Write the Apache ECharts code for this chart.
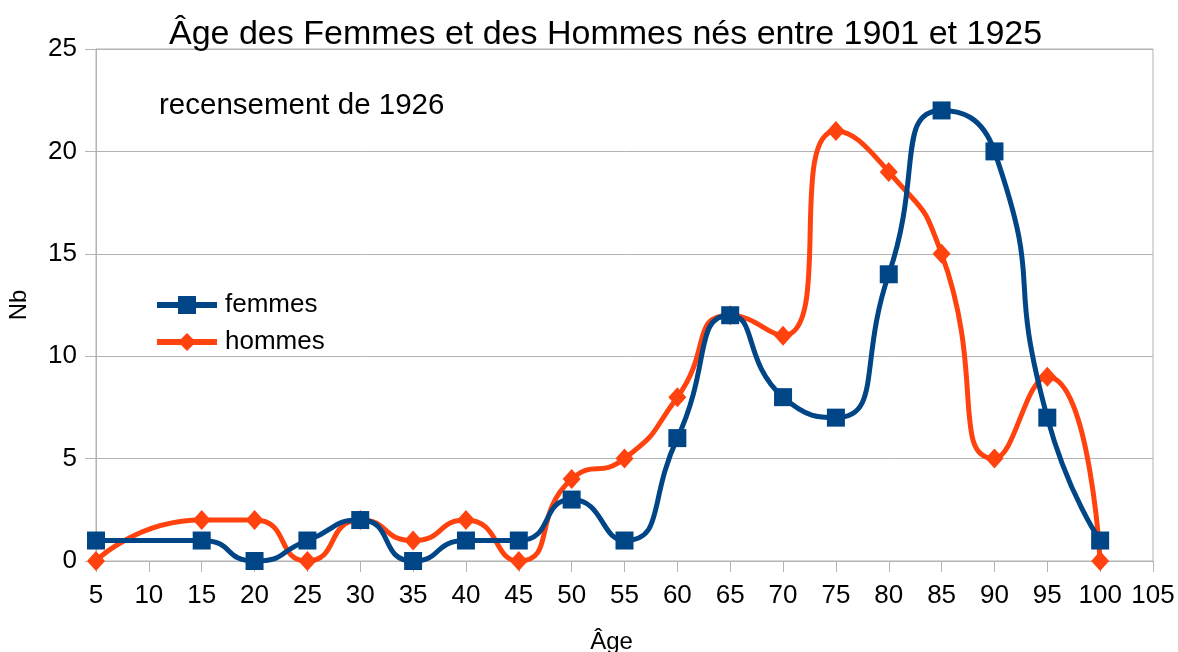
<!DOCTYPE html>
<html>
<head>
<meta charset="utf-8">
<script src="https://cdn.jsdelivr.net/npm/echarts@6/dist/echarts.min.js"></script>
<style>html,body{margin:0;padding:0;background:#fff}#c{width:1178px;height:652px}</style>
</head>
<body>
<div id="c"></div>
<script>
var ages = [5, 15, 20, 25, 30, 35, 40, 45, 50, 55, 60, 65, 70, 75, 80, 85, 90, 95, 100];
var femmes = [1, 1, 0, 1, 2, 0, 1, 1, 3, 1, 6, 12, 8, 7, 14, 22, 20, 7, 1];
var hommes = [0, 2, 2, 0, 2, 1, 2, 0, 4, 5, 8, 12, 11, 21, 19, 15, 5, 9, 0];
var titleText = 'Âge des Femmes et des Hommes nés entre 1901 et 1925';
var subtitleText = 'recensement de 1926';

function pairs(xs, ys) { return xs.map(function (x, i) { return [x, ys[i]]; }); }

var FONT = '"Liberation Sans", Arial, sans-serif';
var GRID = '#b3b3b3';
var chart = echarts.init(document.getElementById('c'), null, { renderer: 'canvas' });
chart.setOption({
  backgroundColor: '#ffffff',
  animation: false,
  title: {
    text: titleText,
    left: 169, top: 18, padding: 0,
    textStyle: { fontFamily: FONT, fontSize: 34, fontWeight: 'normal', color: '#000' }
  },
  graphic: [{
    type: 'text', left: 159, top: 91,
    style: { text: subtitleText, font: '29.5px ' + FONT, fill: '#000' }
  }],
  legend: {
    orient: 'vertical', left: 154, top: 292, itemWidth: 60, itemHeight: 22.5, itemGap: 11,
    padding: 0,
    lineStyle: { width: 6 },
    textStyle: { fontFamily: FONT, fontSize: 26, color: '#000', padding: [0, 0, 0, 3] },
    data: ['femmes', 'hommes']
  },
  grid: {
    left: 96, right: 25, top: 49, bottom: 91,
    outerBoundsMode: 'none', containLabel: false,
    show: true, borderColor: GRID, borderWidth: 1
  },
  xAxis: {
    type: 'value', min: 5, max: 105, interval: 5,
    name: 'Âge', nameLocation: 'middle', nameGap: 69,
    nameTextStyle: { fontFamily: FONT, fontSize: 24, color: '#000', padding: [0, 26, 0, 0] },
    axisLine: { show: true, lineStyle: { color: GRID } },
    axisTick: { show: true, length: 11, lineStyle: { color: GRID } },
    axisLabel: { fontFamily: FONT, fontSize: 26, color: '#000', margin: 22 },
    splitLine: { show: false }
  },
  yAxis: {
    type: 'value', min: 0, max: 25, interval: 5,
    name: 'Nb', nameLocation: 'middle', nameGap: 65, nameRotate: 90,
    nameTextStyle: { fontFamily: FONT, fontSize: 24, color: '#000' },
    axisLine: { show: true, lineStyle: { color: GRID } },
    axisTick: { show: true, length: 11, lineStyle: { color: GRID } },
    axisLabel: { fontFamily: FONT, fontSize: 26, color: '#000', margin: 19 },
    splitLine: { show: true, lineStyle: { color: GRID, width: 1 } }
  },
  series: [
    {
      name: 'hommes', type: 'line', smooth: 0.6, z: 2,
      data: pairs(ages, hommes),
      symbol: 'diamond', symbolSize: [18, 20],
      lineStyle: { color: '#ff420e', width: 5 },
      itemStyle: { color: '#ff420e' }
    },
    {
      name: 'femmes', type: 'line', smooth: 0.6, z: 3,
      data: pairs(ages, femmes),
      symbol: 'rect', symbolSize: 18,
      lineStyle: { color: '#004586', width: 5 },
      itemStyle: { color: '#004586' }
    }
  ]
});
</script>
</body>
</html>
